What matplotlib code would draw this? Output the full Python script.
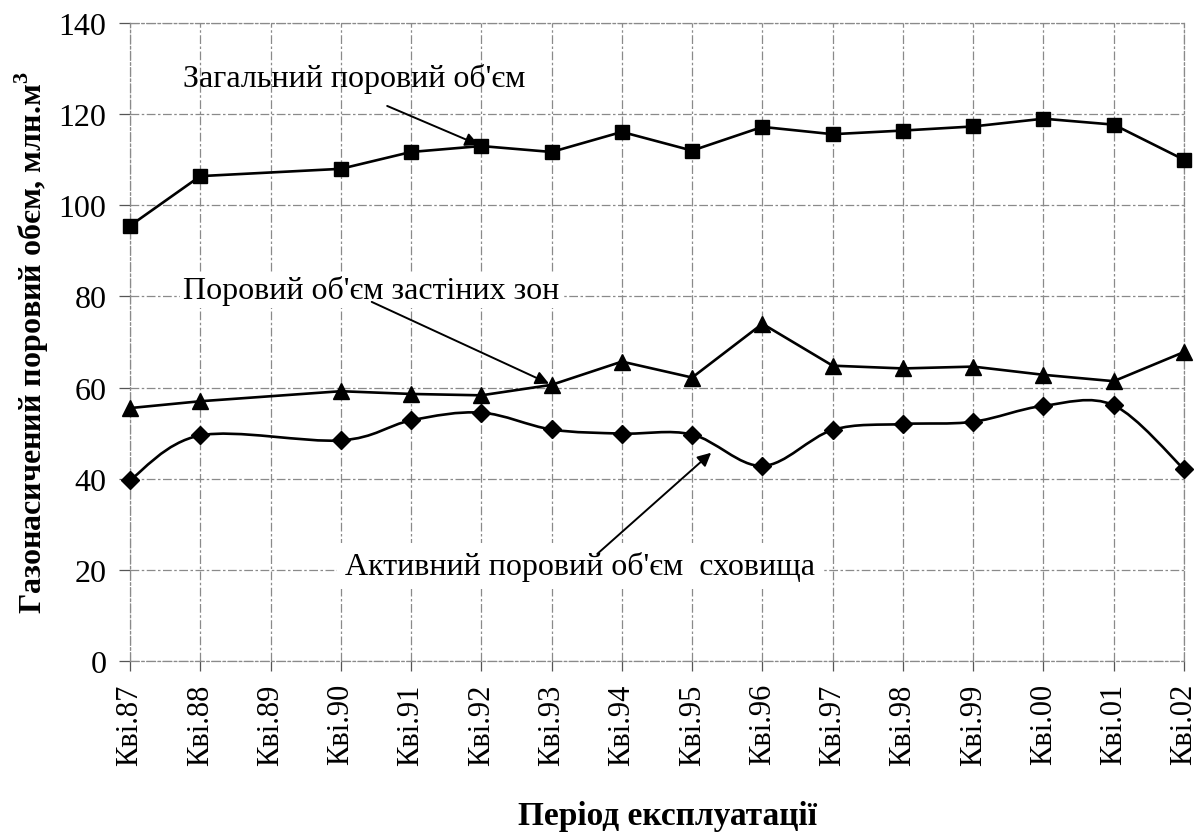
import numpy as np
import matplotlib
matplotlib.use("Agg")
import matplotlib.pyplot as plt
from matplotlib.path import Path
from matplotlib.patches import PathPatch

plt.rcParams["font.family"] = ["Liberation Serif", "DejaVu Serif"]
plt.rcParams["mathtext.fontset"] = "custom"
plt.rcParams["mathtext.rm"] = "Liberation Serif"
plt.rcParams["mathtext.bf"] = "Liberation Serif:bold"

# Quarter labels of the operating period
categories = ["Кві.87", "Кві.88", "Кві.89", "Кві.90", "Кві.91", "Кві.92",
              "Кві.93", "Кві.94", "Кві.95", "Кві.96", "Кві.97", "Кві.98",
              "Кві.99", "Кві.00", "Кві.01", "Кві.02"]

# Pore volumes, mln m3 (no measurement for Кві.89)
total_volume = [95.5, 106.4, None, 108.0, 111.7, 113.0, 111.7, 116.1, 112.0,
                117.2, 115.6, 116.4, 117.3, 119.0, 117.7, 110.0]
stagnant_volume = [55.5, 57.0, None, 59.2, 58.6, 58.3, 60.6, 65.7, 62.2,
                   74.0, 64.8, 64.2, 64.6, 62.8, 61.4, 67.8]
active_volume = [39.7, 49.5, None, 48.4, 52.8, 54.5, 50.8, 49.9, 49.7,
                 42.8, 50.7, 52.0, 52.5, 56.0, 56.1, 42.1]

y_ticks = [0, 20, 40, 60, 80, 100, 120, 140]

label_total = "Загальний поровий об'єм"
label_stagnant = "Поровий об'єм застіних зон"
label_active = "Активний поровий об'єм  сховища"
y_title = r"Газонасичений поровий обєм, млн.м$^{\mathbf{3}}$"
x_title = "Період експлуатації"


def present(values):
    xs = [i for i, v in enumerate(values) if v is not None]
    ys = [v for v in values if v is not None]
    return np.array(xs, float), np.array(ys, float)


def smooth_path(xs, ys):
    """Cubic Bezier path through the points (Catmull-Rom tangents)."""
    pts = np.column_stack([xs, ys])
    n = len(pts)
    verts = [pts[0]]
    codes = [Path.MOVETO]
    for i in range(n - 1):
        p0 = pts[i - 1] if i > 0 else pts[i]
        p1 = pts[i]
        p2 = pts[i + 1]
        p3 = pts[i + 2] if i + 2 < n else pts[i + 1]
        verts += [p1 + (p2 - p0) / 6.0, p2 - (p3 - p1) / 6.0, p2]
        codes += [Path.CURVE4] * 3
    return Path(verts, codes)


fig = plt.figure(figsize=(12.03, 8.37), dpi=100)
ax = fig.add_axes([130 / 1203, 1 - 662 / 837, (1184 - 130) / 1203, (662 - 24) / 837])

grid_style = dict(color="#8a8a8a", linewidth=0.9, linestyle=(0, (7, 2, 2, 2)))

ax.set_xlim(0, len(categories) - 1)
ax.set_ylim(0, 140)
ax.set_xticks(np.arange(len(categories)), categories, rotation=90)
ax.set_yticks(y_ticks)
ax.grid(True, **grid_style)
ax.set_axisbelow(True)
for s in ax.spines.values():
    s.set_color("#8a8a8a")
    s.set_linewidth(0.9)
    s.set_linestyle((0, (7, 2, 2, 2)))

ax.tick_params(axis="y", labelsize=23, length=8, width=0.9, color="#555555", pad=9)
ax.tick_params(axis="x", labelsize=22, length=7, width=0.9, color="#555555", pad=9)

# Total pore volume
xs, ys = present(total_volume)
ax.plot(xs, ys, color="black", lw=1.9, marker="s", ms=10, clip_on=False, zorder=5)

# Pore volume of stagnant zones
xs, ys = present(stagnant_volume)
ax.plot(xs, ys, color="black", lw=1.9, marker="^", ms=11, clip_on=False, zorder=5)

# Active pore volume (smoothed line)
xs, ys = present(active_volume)
ax.add_patch(PathPatch(smooth_path(xs, ys), facecolor="none", edgecolor="black",
                       lw=1.9, clip_on=False, zorder=5))
ax.plot(xs, ys, linestyle="none", color="black", marker="D", ms=9, clip_on=False, zorder=6)

arrow = dict(arrowstyle="-|>", color="black", lw=1.4, mutation_scale=20,
             shrinkA=0, shrinkB=2)

ax.text(0.754, 126.2, label_total, ha="left", va="baseline", fontsize=23, zorder=7)
ax.annotate("", xy=(5, total_volume[5]), xytext=(3.66, 121.8), arrowprops=arrow, zorder=7)

ax.text(0.754, 79.7, label_stagnant, ha="left", va="baseline", fontsize=23, zorder=7,
        bbox=dict(boxstyle="square,pad=0.1", facecolor="white", edgecolor="none"))
ax.annotate("", xy=(6, stagnant_volume[6]), xytext=(3.44, 78.8), arrowprops=arrow, zorder=7)

ax.text(3.06, 19.1, label_active, ha="left", va="baseline", fontsize=23, zorder=7,
        bbox=dict(boxstyle="square,pad=0.25", facecolor="white", edgecolor="none"))
ax.annotate("", xy=(8.3, 46.1), xytext=(6.65, 23.5), arrowprops=arrow, zorder=8)

ax.set_ylabel(y_title, fontsize=23, fontweight="bold")
ax.yaxis.set_label_coords(-0.075, 0.5)
ax.set_xlabel(x_title, fontsize=24, fontweight="bold")
ax.xaxis.set_label_coords(0.51, -0.218)

fig.savefig("out.png", dpi=100)
